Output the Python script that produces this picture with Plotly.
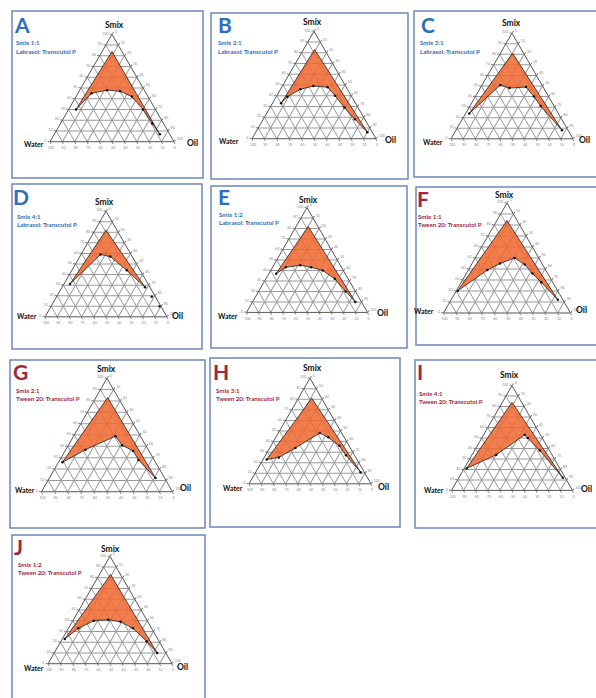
import plotly.graph_objects as go

FIG_W, FIG_H = 596, 698

# ---------------- data ----------------
letters = ["A", "B", "C", "D", "E", "F", "G", "H", "I", "J"]
smix_ratios = ["1:1", "2:1", "3:1", "4:1", "1:2", "1:1", "2:1", "3:1", "4:1", "1:2"]
systems = ["Labrasol: Transcutol P"] * 5 + ["Tween 20: Transcutol P"] * 5
corner_titles = ["Smix", "Water", "Oil"]

# boundary of the nanoemulsion region (%): Smix, Water, Oil
A_smix = [84, 30, 45, 48, 47, 42, 30, 17, 7]
A_water = [8, 64, 44, 30, 20, 13, 10, 9, 8]
A_oil = [8, 6, 11, 22, 33, 45, 60, 74, 85]

B_smix = [83, 33, 39, 46, 49, 48, 40, 29, 18, 6]
B_water = [8, 60, 52, 38, 26, 15, 13, 11, 8, 4]
B_oil = [9, 7, 9, 16, 25, 37, 47, 60, 74, 90]

C_smix = [81, 24, 51, 48, 49, 40, 31, 8]
C_water = [9, 73, 34, 28, 14, 12, 11, 5]
C_oil = [10, 3, 15, 24, 37, 48, 58, 87]

D_smix = [82, 31, 59, 57, 44, 28]
D_water = [9, 64, 25, 18, 11, 4]
D_oil = [9, 5, 16, 25, 45, 68]
D_extra_smix = [19, 10]
D_extra_water = [3, 1]
D_extra_oil = [78, 89]

E_smix = [82, 37, 43, 45, 43, 40, 32, 20, 10]
E_water = [8, 57, 46, 33, 25, 17, 11, 8, 5]
E_oil = [10, 6, 11, 22, 32, 43, 57, 72, 85]

F_smix = [84, 20, 39, 45, 50, 44, 36, 28, 12]
F_water = [8, 79, 46, 33, 19, 14, 12, 9, 4]
F_oil = [8, 1, 15, 22, 31, 42, 52, 63, 84]

G_smix = [83, 26, 37, 49, 41, 36, 28, 12]
G_water = [8, 71, 48, 19, 18, 12, 12, 7]
G_oil = [9, 3, 15, 32, 41, 52, 60, 81]

H_smix = [81, 23, 25, 34, 48, 44, 36, 27, 11]
H_water = [8, 74, 63, 45, 18, 13, 8, 7, 3]
H_oil = [11, 3, 12, 21, 34, 43, 56, 66, 86]

I_smix = [84, 21, 34, 53, 50, 38, 12]
I_water = [8, 77, 46, 13, 12, 8, 2]
I_oil = [8, 2, 20, 34, 38, 54, 86]

J_smix = [83, 23, 33, 40, 41, 39, 33, 21, 10]
J_water = [8, 75, 59, 43, 31, 22, 15, 10, 7]
J_oil = [9, 2, 8, 17, 28, 39, 52, 69, 83]

series = [
    (A_smix, A_water, A_oil), (B_smix, B_water, B_oil), (C_smix, C_water, C_oil),
    (D_smix, D_water, D_oil), (E_smix, E_water, E_oil), (F_smix, F_water, F_oil),
    (G_smix, G_water, G_oil), (H_smix, H_water, H_oil), (I_smix, I_water, I_oil),
    (J_smix, J_water, J_oil),
]

# ---------------- layout (pixels) ----------------
# triangle centre x, centre y, side length
tri_geom = [
    (112, 88, 124), (314, 85, 124), (512, 86, 122),
    (106, 264, 122), (307, 260, 121), (507, 258, 127),
    (107, 435, 131), (310, 431, 122), (512, 438, 121),
    (110, 610, 124),
]
# panel frames x0, y0, x1, y1
frames = [
    (12, 11, 203, 178), (211, 13, 408, 179), (414, 11, 600, 177),
    (12, 184, 202, 349), (211, 186, 407, 348), (416, 187, 600, 345),
    (10, 360, 205, 528), (210, 358, 400, 527), (415, 360, 600, 528),
    (12, 535, 205, 705),
]
# letter left, cap-bottom (baseline)
letter_pos = [
    (13, 33), (217, 33), (420, 33),
    (12, 205), (217, 205), (416, 207),
    (12, 380), (212, 380), (416, 380),
    (13, 555),
]
# subtitle first-line left, centre-y
sub_pos = [
    (15, 43), (217, 43), (419, 43),
    (16, 216), (218, 214), (417, 216),
    (15, 390), (215, 390), (418, 393),
    (17, 564),
]
# corner title centres: Smix, Water, Oil
title_pos = [
    ((114, 25), (34, 144), (192, 143)),
    ((312, 22), (229, 141), (390, 140)),
    ((511, 23), (433, 142), (584, 140)),
    ((104, 202), (27, 316), (177, 316)),
    ((308, 200), (228, 316), (382, 313)),
    ((504, 195), (424, 311), (581, 310)),
    ((106, 369), (25, 490), (185, 488)),
    ((312, 368), (233, 488), (383, 487)),
    ((509, 375), (434, 490), (586, 489)),
    ((110, 549), (34, 668), (183, 667)),
]
title_sizes = [8.5, 7, 8.5]

BLUE = "#2E6FB7"
RED = "#A3243B"
ORANGE = "rgba(240,104,48,0.86)"
FONT = "Lato"

fig = go.Figure()

def px_x(x):
    return x / FIG_W

def px_y(y):
    return 1 - y / FIG_H

def axis():
    return dict(
        title=dict(text=""),
        min=0, dtick=10,
        tickfont=dict(size=3.5, color="#888", family=FONT),
        ticks="outside", ticklen=2, tickcolor="#777",
        linecolor="#555", linewidth=1,
        gridcolor="#9a9a9a", gridwidth=0.6,
        layer="above traces",
    )

layout_updates = {}
annotations = []
shapes = []

for i, (sm, wa, oi) in enumerate(series):
    key = "ternary" if i == 0 else f"ternary{i + 1}"
    cx, cy, w = tri_geom[i]
    h = w * 0.8660254
    layout_updates[key] = dict(
        domain=dict(x=[px_x(cx - w / 2), px_x(cx + w / 2)],
                    y=[px_y(cy + h / 2), px_y(cy - h / 2)]),
        sum=100,
        bgcolor="white",
        aaxis=axis(), baxis=axis(), caxis=axis(),
    )
    fig.add_trace(go.Scatterternary(
        a=sm + [sm[0]], b=wa + [wa[0]], c=oi + [oi[0]],
        mode="lines", fill="toself", fillcolor=ORANGE,
        line=dict(color="#222", width=0.8),
        subplot=key, hoverinfo="skip", showlegend=False,
    ))
    fig.add_trace(go.Scatterternary(
        a=sm[1:], b=wa[1:], c=oi[1:], mode="markers",
        marker=dict(size=2.5, color="#111"),
        subplot=key, hoverinfo="skip", showlegend=False,
    ))
    if letters[i] == "D":
        fig.add_trace(go.Scatterternary(
            a=D_extra_smix, b=D_extra_water, c=D_extra_oil, mode="markers",
            marker=dict(size=2.5, color="#111"),
            subplot=key, hoverinfo="skip", showlegend=False,
        ))

    color = BLUE if i < 5 else RED
    fx0, fy0, fx1, fy1 = frames[i]
    shapes.append(dict(type="rect", xref="paper", yref="paper",
                       x0=px_x(fx0), x1=px_x(fx1), y0=px_y(fy1), y1=px_y(fy0),
                       line=dict(color="#6F86BA", width=1.5), fillcolor="rgba(0,0,0,0)"))
    lx, ly = letter_pos[i]
    annotations.append(dict(text=f"<b>{letters[i]}</b>", x=px_x(lx), y=px_y(ly + 5),
                            xref="paper", yref="paper", xanchor="left", yanchor="bottom",
                            showarrow=False, borderpad=0,
                            font=dict(size=21, color=color, family=FONT)))
    sx, sy = sub_pos[i]
    annotations.append(dict(text=f"<b>Smix {smix_ratios[i]}</b>", x=px_x(sx), y=px_y(sy),
                            xref="paper", yref="paper", xanchor="left", yanchor="middle",
                            showarrow=False, borderpad=0,
                            font=dict(size=6.2, color=color, family=FONT)))
    annotations.append(dict(text=f"<b>{systems[i]}</b>", x=px_x(sx), y=px_y(sy + 8.5),
                            xref="paper", yref="paper", xanchor="left", yanchor="middle",
                            showarrow=False, borderpad=0,
                            font=dict(size=6.2, color=color, family=FONT)))
    for t, (tx, ty), ts in zip(corner_titles, title_pos[i], title_sizes):
        annotations.append(dict(text=f"<b>{t}</b>", x=px_x(tx), y=px_y(ty),
                                xref="paper", yref="paper", xanchor="center", yanchor="middle",
                                showarrow=False, borderpad=0,
                                font=dict(size=ts, color="#111", family=FONT)))

fig.update_layout(
    width=FIG_W, height=FIG_H,
    margin=dict(l=0, r=0, t=0, b=0),
    paper_bgcolor="white",
    plot_bgcolor="white",
    showlegend=False,
    shapes=shapes,
    annotations=annotations,
    **layout_updates,
)

fig.write_html(
    "out.html",
    config={"displayModeBar": False},
    post_script="document.body.style.margin='0';document.body.style.overflow='hidden';",
)
